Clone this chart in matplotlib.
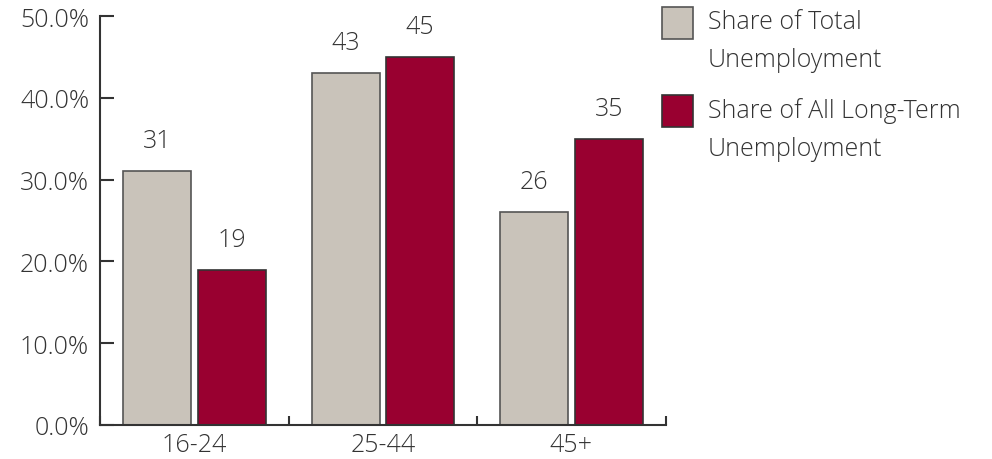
import matplotlib.pyplot as plt
import numpy as np
from matplotlib.patches import Rectangle

# Data
groups = ["16-24", "25-44", "45+"]
share_total = [31, 43, 26]
share_long_term = [19, 45, 35]
y_ticks = [0, 10, 20, 30, 40, 50]

GRAY = "#C9C3BA"
RED = "#990030"
EDGE = "#555555"
TEXT = "#333333"
FONT = "Open Sans"
FS = 18

plt.rcParams.update({"font.family": [FONT, "DejaVu Sans"], "font.size": FS,
                     "font.weight": "light"})

fig = plt.figure(figsize=(9.92, 4.6), dpi=100)
ax = fig.add_axes([0.101, 0.074, 0.570, 0.889])

x = np.arange(len(groups))
width = 0.36
offset = 0.198

bars1 = ax.bar(x - offset, share_total, width, color=GRAY, edgecolor=EDGE, linewidth=1.2)
bars2 = ax.bar(x + offset, share_long_term, width, color=RED, edgecolor="#333333", linewidth=1.2)

for bars in (bars1, bars2):
    for b in bars:
        ax.annotate(f"{b.get_height():.0f}", (b.get_x() + b.get_width() / 2, b.get_height()),
                    xytext=(0, 22), textcoords="offset points", ha="center", va="center",
                    color=TEXT, fontsize=FS)

ax.set_xlim(-0.5, len(groups) - 0.5)
ax.set_ylim(0, 50)
ax.set_yticks(y_ticks)
ax.set_yticklabels([f"{v:.1f}%" for v in y_ticks])
ax.set_xticks(x)
ax.set_xticklabels(groups)
ax.set_xticks(np.arange(len(groups) + 1) - 0.5, minor=True)

ax.tick_params(axis="y", direction="in", length=10, width=1.5, color=TEXT, labelcolor=TEXT,
               pad=8, labelsize=FS)
ax.tick_params(axis="x", which="major", length=0, pad=5, labelcolor=TEXT, labelsize=FS)
ax.tick_params(axis="x", which="minor", direction="in", length=6.5, width=1.5, color=TEXT)

for s in ["top", "right"]:
    ax.spines[s].set_visible(False)
for s in ["left", "bottom"]:
    ax.spines[s].set_linewidth(1.5)
    ax.spines[s].set_color(TEXT)

# Legend drawn by hand so the swatch lines up with the first text line
legend_items = [("Share of Total\nUnemployment", GRAY, EDGE, 8),
                ("Share of All Long-Term\nUnemployment", RED, "#333333", 96)]
for label, face, edge, top_px in legend_items:
    fig.add_artist(Rectangle((662 / 992, 1 - (top_px + 32) / 460), 31 / 992, 32 / 460,
                             transform=fig.transFigure, facecolor=face, edgecolor=edge,
                             linewidth=1.2))
    fig.text(708 / 992, 1 - (top_px + 2) / 460, label, ha="left", va="top",
             color=TEXT, fontsize=FS, linespacing=1.7)

fig.savefig("out.png", dpi=100)
